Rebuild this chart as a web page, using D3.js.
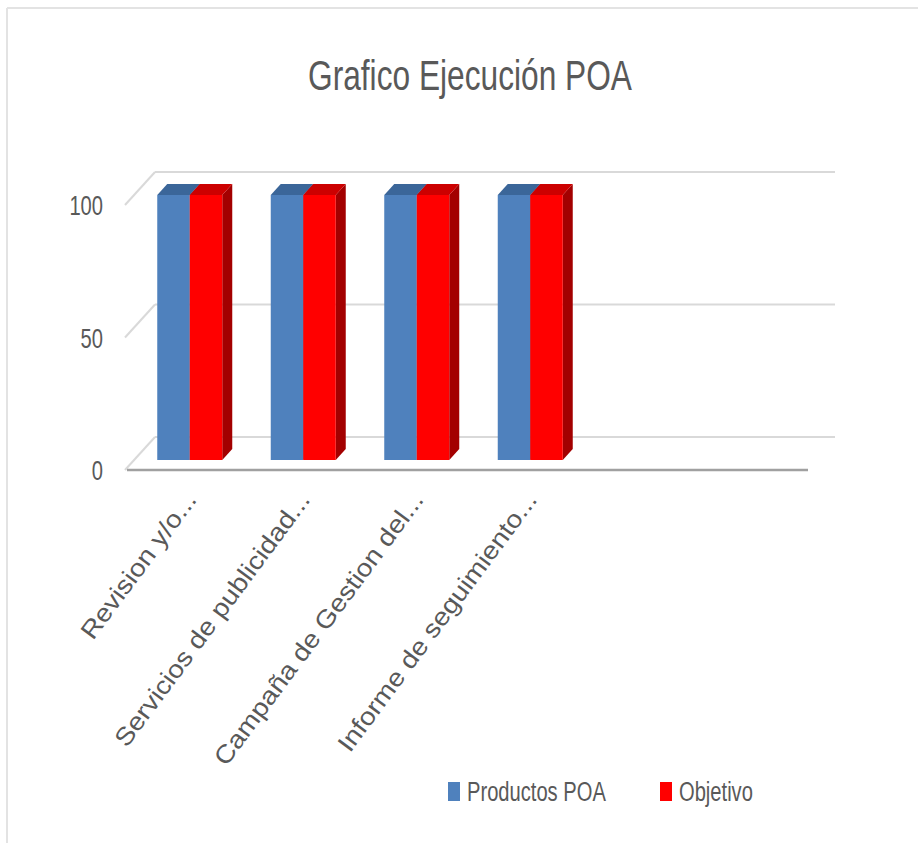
<!DOCTYPE html>
<html>
<head>
<meta charset="utf-8">
<script src="https://cdn.jsdelivr.net/npm/d3@7"></script>
<style>
  body { margin: 0; background: #fff; }
  text { font-family: "Liberation Sans", Arial, sans-serif; fill: #595959; }
</style>
</head>
<body>
<div id="app"></div>
<script>
// chart data
const categories = ["Revision y/o...", "Servicios de publicidad...", "Campaña de Gestion del...", "Informe de seguimiento...", "", ""];
const seriesNames = ["Productos POA", "Objetivo"];
const productosPOA = [100, 100, 100, 100, null, null];
const objetivo = [100, 100, 100, 100, null, null];
const yTicks = [0, 50, 100];

const W = 918, H = 843;
const squeeze = 0.72; // text in the picture is horizontally condensed

const colors = {
    "Productos POA": { front: "#4f81bd", top: "#3b6699", side: "#385d8a" },
    "Objetivo": { front: "#ff0000", top: "#cc0000", side: "#a30000" }
};

// depth of the 3d floor (front -> back wall) and of the bars
const floorDx = 28, floorDy = -33;
const barPlaneDx = 8, barPlaneDy = -10;
const barDx = 10, barDy = -11;

const svg = d3.select("#app")
    .append("svg")
    .attr("width", W)
    .attr("height", H);

// outer frame (top and left edges only are visible)
svg.append("line").attr("x1", 7).attr("x2", W).attr("y1", 8).attr("y2", 8)
    .attr("stroke", "#e3e3e3").attr("stroke-width", 2);
svg.append("line").attr("x1", 7).attr("x2", 7).attr("y1", 8).attr("y2", H)
    .attr("stroke", "#e3e3e3").attr("stroke-width", 2);

// title
svg.append("text")
    .attr("x", 308)
    .attr("y", 90)
    .attr("textLength", 324)
    .attr("lengthAdjust", "spacingAndGlyphs")
    .style("font-size", "43px")
    .text("Grafico Ejecución POA");

const x = d3.scaleBand()
    .domain(d3.range(categories.length))
    .range([127, 808])
    .padding(0);

const x1 = d3.scaleBand()
    .domain(seriesNames)
    .range([0, 65]);

const y = d3.scaleLinear()
    .domain([0, 100])
    .range([470, 205]);

// back wall gridlines + left wall slants
const grid = svg.append("g");
yTicks.forEach(t => {
    grid.append("line")
        .attr("x1", x.range()[0] + floorDx).attr("x2", x.range()[1] + 27)
        .attr("y1", y(t) + floorDy).attr("y2", y(t) + floorDy)
        .attr("stroke", "#d9d9d9").attr("stroke-width", 2);
    grid.append("line")
        .attr("x1", x.range()[0] - 2).attr("x2", x.range()[0] + floorDx)
        .attr("y1", y(t)).attr("y2", y(t) + floorDy)
        .attr("stroke", "#d9d9d9").attr("stroke-width", 2);
});

// front axis line
svg.append("line")
    .attr("x1", x.range()[0]).attr("x2", x.range()[1])
    .attr("y1", y(0)).attr("y2", y(0))
    .attr("stroke", "#a0a0a0").attr("stroke-width", 2.5);

// y tick labels
svg.append("g").selectAll("text")
    .data(yTicks)
    .join("text")
    .attr("transform", d => `translate(103,${y(d) + 10}) scale(${squeeze},1)`)
    .attr("text-anchor", "end")
    .style("font-size", "28px")
    .text(d => d);

// bars
const rows = [];
categories.forEach((c, i) => {
    rows.push({ i, s: "Productos POA", v: productosPOA[i] });
    rows.push({ i, s: "Objetivo", v: objetivo[i] });
});
const barData = rows.filter(d => d.v != null);
const groupOffset = (x.bandwidth() - x1.range()[1]) / 2 + barPlaneDx - 2;

const bars = svg.append("g").selectAll("g")
    .data(barData)
    .join("g")
    .attr("transform", d => `translate(${x(d.i) + groupOffset + x1(d.s)},${barPlaneDy})`);

bars.each(function (d) {
    const g = d3.select(this);
    const bw = x1.bandwidth();
    const top = y(d.v), bottom = y(0);
    // side face
    g.append("path")
        .attr("d", `M${bw},${top} L${bw + barDx},${top + barDy} L${bw + barDx},${bottom + barDy} L${bw},${bottom} Z`)
        .attr("fill", colors[d.s].side);
    // top face
    g.append("path")
        .attr("d", `M0,${top} L${barDx},${top + barDy} L${bw + barDx},${top + barDy} L${bw},${top} Z`)
        .attr("fill", colors[d.s].top);
    // front face
    g.append("rect")
        .attr("x", 0)
        .attr("y", top)
        .attr("width", bw)
        .attr("height", bottom - top)
        .attr("fill", colors[d.s].front);
});

// category labels
svg.append("g").selectAll("text")
    .data(categories)
    .join("text")
    .attr("transform", (d, i) => `translate(${x(i) + x.bandwidth() / 2 + 14},500) rotate(-53.4) scale(1.12,1)`)
    .attr("text-anchor", "end")
    .style("font-size", "25px")
    .text(d => d);

// legend
const legendX = [448, 660];
const legend = svg.append("g").selectAll("g")
    .data(seriesNames)
    .join("g")
    .attr("transform", (d, i) => `translate(${legendX[i]},782)`);
legend.append("rect")
    .attr("width", 12)
    .attr("height", 19)
    .attr("fill", d => colors[d].front);
legend.append("text")
    .attr("transform", `translate(19,19) scale(${squeeze},1)`)
    .style("font-size", "28px")
    .text(d => d);
</script>
</body>
</html>
